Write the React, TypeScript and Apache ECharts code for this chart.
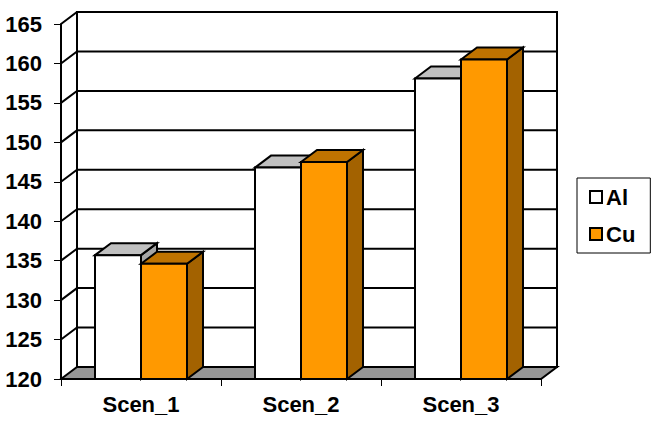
import React, { useEffect, useRef } from "react";
import * as echarts from "echarts";

const categories = ["Scen_1", "Scen_2", "Scen_3"];
const alValues = [135.7, 146.8, 158.1];
const cuValues = [134.6, 147.5, 160.5];
const yTicks = [120, 125, 130, 135, 140, 145, 150, 155, 160, 165];

const FONT = '"Liberation Sans", Arial, sans-serif';
const DX = 16;
const DY = -12;
const BAR = 46;
const LINE = { stroke: "#000", lineWidth: 2 };

function barRender(side: number, front: string, top: string, right: string) {
  return (params: any, api: any) => {
    const i = api.value(0);
    const [cx, yTop] = api.coord([i, api.value(1)]);
    const [, yBase] = api.coord([i, 120]);
    const x0 = side < 0 ? cx - BAR : cx;
    const x1 = x0 + BAR;
    return {
      type: "group",
      children: [
        { type: "polygon", shape: { points: [[x1, yBase], [x1 + DX, yBase + DY], [x1 + DX, yTop + DY], [x1, yTop]] }, style: { fill: right, ...LINE } },
        { type: "polygon", shape: { points: [[x0, yTop], [x0 + DX, yTop + DY], [x1 + DX, yTop + DY], [x1, yTop]] }, style: { fill: top, ...LINE } },
        { type: "rect", shape: { x: x0, y: yTop, width: BAR, height: yBase - yTop }, style: { fill: front, ...LINE } },
      ],
    };
  };
}

function wallRender(params: any, api: any) {
  const v = api.value(0);
  const n = categories.length;
  const [xl, y] = api.coord([0, v]);
  const left = xl - api.size([1, 0])[0] / 2;
  const right = left + api.size([1, 0])[0] * n;
  const children: any[] = [];
  if (v === yTicks[0]) {
    const yTopTick = api.coord([0, yTicks[yTicks.length - 1]])[1];
    children.push({ type: "rect", shape: { x: left + DX, y: yTopTick + DY, width: right - left, height: y - yTopTick }, style: { fill: "#fff", ...LINE } });
    children.push({ type: "polygon", shape: { points: [[left, y], [left + DX, y + DY], [right + DX, y + DY], [right, y]] }, style: { fill: "#969696", ...LINE } });
  } else {
    children.push({ type: "polyline", shape: { points: [[left, y], [left + DX, y + DY], [right + DX, y + DY]] }, style: { fill: "none", ...LINE } });
  }
  return { type: "group", children };
}

export default function App() {
  const ref = useRef<HTMLDivElement>(null);
  useEffect(() => {
    document.body.style.margin = "0";
    const chart = echarts.init(ref.current!, null, { renderer: "svg" });
    chart.setOption({
      animation: false,
      backgroundColor: "#fff",
      grid: { left: 61, top: 24, width: 480, height: 355, containLabel: false },
      xAxis: {
        type: "category",
        data: categories,
        axisLine: { show: true, lineStyle: { color: "#000", width: 2 } },
        axisTick: { show: true, alignWithLabel: false, length: 7, lineStyle: { color: "#000", width: 1 } },
        axisLabel: { color: "#000", fontFamily: FONT, fontWeight: "bold", fontSize: 22, margin: 14 },
        splitLine: { show: false },
        z: 10,
      },
      yAxis: {
        type: "value",
        min: 120,
        max: 165,
        interval: 5,
        axisLine: { show: true, onZero: false, lineStyle: { color: "#000", width: 2 } },
        axisTick: { show: true, length: 7, lineStyle: { color: "#000", width: 1 } },
        axisLabel: { color: "#000", fontFamily: FONT, fontWeight: "bold", fontSize: 22, margin: 19 },
        splitLine: { show: false },
      },
      legend: {
        left: 577,
        top: 178,
        orient: "vertical",
        itemWidth: 12,
        itemHeight: 12,
        itemGap: 15,
        padding: [8, 15, 8, 12],
        borderColor: "#000",
        borderWidth: 1,
        backgroundColor: "#fff",
        textStyle: { color: "#000", fontFamily: FONT, fontWeight: "bold", fontSize: 22, padding: [0, 0, 0, -1] },
        data: [
          { name: "Al", icon: "rect", itemStyle: { color: "#fff", borderColor: "#000", borderWidth: 2 } },
          { name: "Cu", icon: "rect", itemStyle: { color: "#ff9900", borderColor: "#000", borderWidth: 2 } },
        ],
      },
      series: [
        {
          type: "custom",
          name: "walls",
          renderItem: wallRender,
          data: yTicks.map((v) => [v]),
          encode: { y: 0 },
          clip: false,
          silent: true,
          z: 1,
        },
        {
          type: "custom",
          name: "Al",
          renderItem: barRender(-1, "#ffffff", "#c0c0c0", "#a6a6a6"),
          data: alValues.map((v, i) => [i, v]),
          encode: { x: 0, y: 1 },
          clip: false,
          itemStyle: { color: "#fff" },
          z: 3,
        },
        {
          type: "custom",
          name: "Cu",
          renderItem: barRender(1, "#ff9900", "#bf7300", "#a36200"),
          data: cuValues.map((v, i) => [i, v]),
          encode: { x: 0, y: 1 },
          clip: false,
          itemStyle: { color: "#ff9900" },
          z: 4,
        },
      ],
    });
    return () => chart.dispose();
  }, []);
  return <div ref={ref} style={{ position: "absolute", left: 0, top: 0, width: 652, height: 423 }} />;
}
